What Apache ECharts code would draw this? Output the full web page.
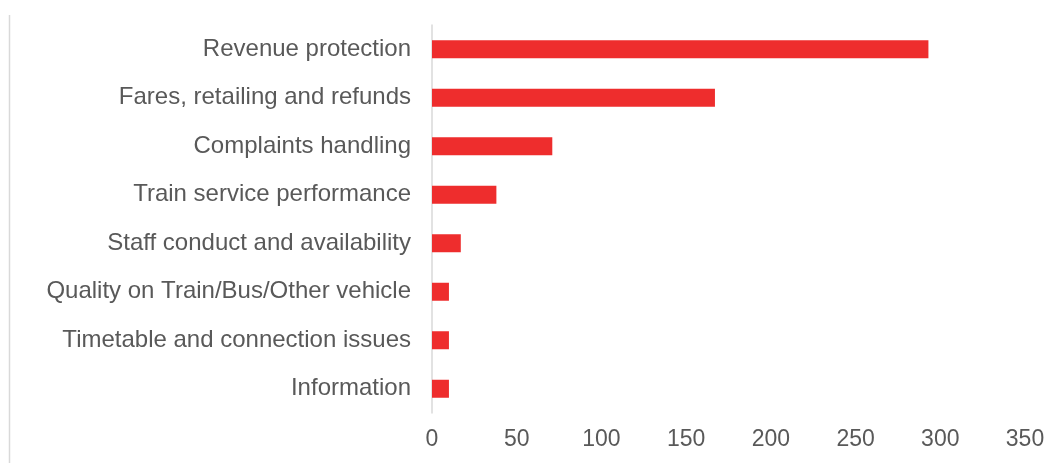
<!DOCTYPE html>
<html>
<head>
<meta charset="utf-8">
<script src="https://cdn.jsdelivr.net/npm/echarts@6/dist/echarts.min.js"></script>
<style>
html,body{margin:0;padding:0;background:#fff;}
#c{width:1050px;height:463px;}
</style>
</head>
<body>
<div id="c"></div>
<script>
const categories = [
  "Revenue protection",
  "Fares, retailing and refunds",
  "Complaints handling",
  "Train service performance",
  "Staff conduct and availability",
  "Quality on Train/Bus/Other vehicle",
  "Timetable and connection issues",
  "Information"
];
const values = [293, 167, 71, 38, 17, 10, 10, 10];
const xTicks = [0, 50, 100, 150, 200, 250, 300, 350];

const chart = echarts.init(document.getElementById('c'), null, {renderer: 'canvas'});
chart.setOption({
  animation: false,
  backgroundColor: '#ffffff',
  graphic: [{
    type: 'line',
    shape: {x1: 9.5, y1: 15, x2: 9.5, y2: 463},
    style: {stroke: '#d9d9d9', lineWidth: 1.5}
  }],
  grid: {left: 432, right: 25, top: 25, bottom: 50, containLabel: false},
  xAxis: {
    type: 'value',
    min: xTicks[0],
    max: xTicks[xTicks.length - 1],
    interval: 50,
    axisLine: {show: false},
    axisTick: {show: false},
    splitLine: {show: false},
    axisLabel: {
      color: '#595959',
      fontFamily: 'Liberation Sans, Arial, sans-serif',
      fontSize: 23,
      margin: 15
    }
  },
  yAxis: {
    type: 'category',
    data: categories,
    inverse: true,
    axisLine: {show: true, lineStyle: {color: '#d9d9d9', width: 1.5}},
    axisTick: {show: false},
    axisLabel: {
      color: '#595959',
      fontFamily: 'Liberation Sans, Arial, sans-serif',
      fontSize: 24,
      margin: 21
    }
  },
  series: [{
    type: 'bar',
    data: values,
    barWidth: 18,
    itemStyle: {color: '#ee2d2d'}
  }]
});
</script>
</body>
</html>
